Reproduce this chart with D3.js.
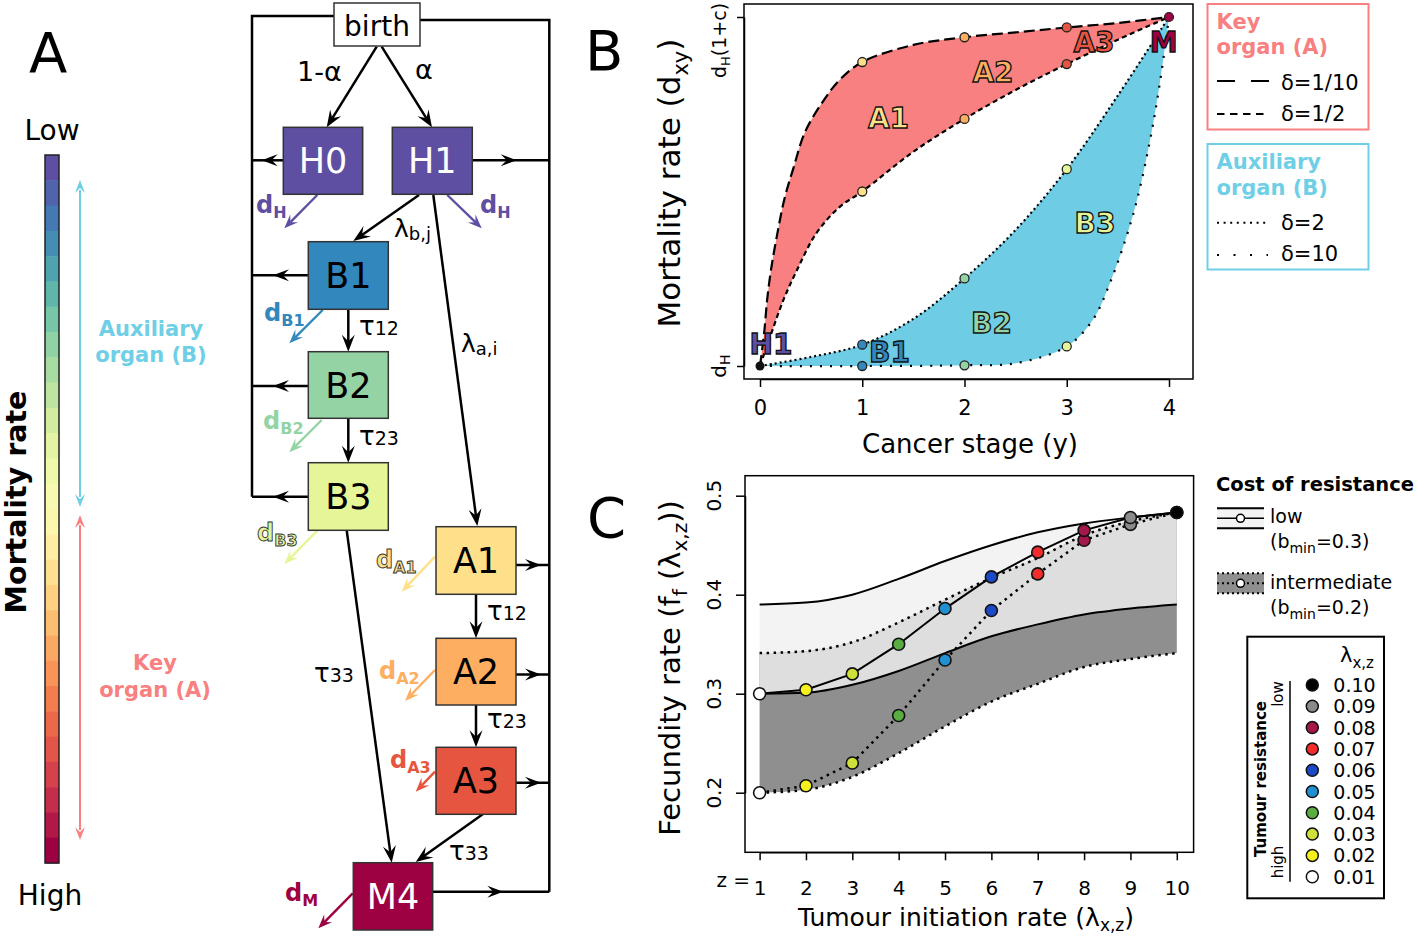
<!DOCTYPE html>
<html><head><meta charset="utf-8">
<script src="https://cdn.jsdelivr.net/npm/d3@7/dist/d3.min.js"></script>
<style>
html,body{margin:0;padding:0;background:#fff;}
svg{display:block;font-family:"DejaVu Sans",sans-serif;}
</style></head>
<body>
<svg id="fig" width="1418" height="937"></svg>
<script>
// ================= DATA =================
// Panel A – model states
const stateIds = ["birth","H0","H1","B1","B2","B3","A1","A2","A3","M4"];
const mortalityBarSteps = 28;

// Panel B – relative mortality (0 = dH, 1 = dH(1+c)) by cancer stage
const stageTicks = [0,1,2,3,4];
const nodeStages = [1,2,3];
const keyDeltaTenth = [0.871,0.942,0.970];
const keyDeltaHalf  = [0.500,0.708,0.865];
const auxDeltaTwo   = [0.061,0.251,0.564];
const auxDeltaTen   = [0.000,0.002,0.056];
// traced curves [stage, relative mortality]
const traceKeyTenth = [[0,0],[0.04,0.093],[0.07,0.19],[0.11,0.28],[0.17,0.38],[0.24,0.48],[0.33,0.57],[0.44,0.67],[0.62,0.76],[0.78,0.82],[1,0.871],[1.5,0.92],[2,0.942],[2.5,0.956],[3,0.970],[3.5,0.983],[4,1]];
const traceKeyHalf  = [[0,0],[0.11,0.093],[0.23,0.19],[0.37,0.28],[0.55,0.38],[0.78,0.456],[1,0.5],[1.5,0.614],[2,0.708],[2.5,0.791],[3,0.865],[3.5,0.935],[4,1]];
const traceAuxTwo   = [[0,0],[0.5,0.026],[1,0.061],[1.5,0.135],[2,0.251],[2.5,0.39],[3,0.564],[3.5,0.775],[4,1]];
const traceAuxTen   = [[0,0],[1,0],[2,0.002],[2.5,0.008],[3,0.056],[3.25,0.13],[3.42,0.236],[3.65,0.435],[3.81,0.64],[3.91,0.81],[4,1]];

// Panel C – fecundity by tumour initiation rate index z
const zValues = [1,2,3,4,5,6,7,8,9,10];
const lambdaLabels = ["0.01","0.02","0.03","0.04","0.05","0.06","0.07","0.08","0.09","0.10"];
const fecundityTicks = [0.2,0.3,0.4,0.5];
const lowCostUpper     = [0.390,0.392,0.400,0.416,0.434,0.450,0.463,0.472,0.478,0.483];
const lowCostLower     = [0.300,0.301,0.309,0.323,0.341,0.358,0.370,0.380,0.386,0.390];
const lowCostFecundity = [0.300,0.304,0.320,0.350,0.386,0.418,0.443,0.465,0.478,0.483];
const interUpper       = [0.341,0.343,0.352,0.372,0.395,0.417,0.437,0.460,0.474,0.483];
const interLower       = [0.200,0.203,0.216,0.240,0.267,0.292,0.310,0.327,0.335,0.341];
const interFecundity   = [0.200,0.207,0.230,0.278,0.334,0.384,0.421,0.455,0.471,0.483];

// ================= STYLE =================
const lambdaColors = ["#ffffff","#f5f01e","#cfe03a","#5cac44","#2090d0","#1a4ac8","#f22b2b","#a3174b","#8a8a8a","#000000"];
const stateColors = {birth:"#ffffff",H0:"#5e4fa2",H1:"#5e4fa2",B1:"#3288bd",B2:"#94d3a4",B3:"#e6f598",A1:"#fee08b",A2:"#fdae61",A3:"#e6553f",M4:"#9e0142"};
const SALMON = "#f88080", SKY = "#6fcfe6";

const svg = d3.select("#fig");

function addText(g, x, y, str, o={}) {
  const t = g.append("text").attr("x",x).attr("y",y).text(str)
    .attr("font-size", o.size||20).attr("fill", o.fill||"#000")
    .attr("text-anchor", o.anchor||"start").attr("font-weight", o.weight||"normal");
  if (o.stroke) t.attr("stroke",o.stroke).attr("stroke-width",o.sw||1);
  if (o.rotate) t.attr("transform",`rotate(${o.rotate},${x},${y})`);
  return t;
}
function richText(g, x, y, parts, o={}) {
  const size=o.size||20, subSize=o.subSize||size*0.68, shift=o.shift!==undefined?o.shift:size*0.28;
  const t = g.append("text").attr("x",x).attr("y",y)
    .attr("font-size", size).attr("fill", o.fill||"#000")
    .attr("text-anchor", o.anchor||"start").attr("font-weight", o.weight||"normal");
  if (o.stroke) t.attr("stroke",o.stroke).attr("stroke-width",o.sw||1);
  if (o.rotate) t.attr("transform",`rotate(${o.rotate},${x},${y})`);
  let cur=0;
  parts.forEach(([s,k])=>{
    const target = k==='sub'? shift : 0;
    const ts = t.append("tspan").text(s).attr("dy", target-cur);
    if (k==='sub') ts.attr("font-size", subSize);
    cur = target;
  });
  return t;
}
function head(g, tx, ty, fx, fy, color, L=15, Wd=6) {
  const a = Math.atan2(ty-fy, tx-fx)*180/Math.PI;
  g.append("path").attr("d",`M0,0L${-L},${-Wd}L${-L*0.62},0L${-L},${Wd}Z`)
   .attr("fill",color).attr("transform",`translate(${tx},${ty}) rotate(${a})`);
}
function arrow(g, x1,y1,x2,y2,color,w=2.5,L=15,Wd=6){
  const d=Math.hypot(x2-x1,y2-y1), ux=(x2-x1)/d, uy=(y2-y1)/d;
  g.append("line").attr("x1",x1).attr("y1",y1).attr("x2",x2-ux*L*0.6).attr("y2",y2-uy*L*0.6)
   .attr("stroke",color).attr("stroke-width",w);
  head(g,x2,y2,x1,y1,color,L,Wd);
}
function poly(g, pts, color="#000", w=2.5){
  g.append("polyline").attr("points",pts.map(p=>p.join(",")).join(" "))
   .attr("fill","none").attr("stroke",color).attr("stroke-width",w).attr("stroke-linejoin","miter");
}

// ================= PANEL A =================
const gA = svg.append("g");
addText(gA, 29, 72, "A", {size:56});
addText(gA, 52, 140, "Low", {size:28, anchor:"middle"});
addText(gA, 50, 905, "High", {size:28, anchor:"middle"});
const barTop=155, barBot=863, barX=45, barW=14;
const barScale = d3.scaleBand().domain(d3.range(mortalityBarSteps)).range([barTop,barBot]);
gA.selectAll("rect.cb").data(d3.range(mortalityBarSteps)).join("rect")
  .attr("x",barX).attr("y",d=>barScale(d)).attr("width",barW).attr("height",barScale.bandwidth()+0.5)
  .attr("fill",d=>d3.interpolateSpectral(1-d/(mortalityBarSteps-1)));
gA.append("rect").attr("x",barX).attr("y",barTop).attr("width",barW).attr("height",barBot-barTop)
  .attr("fill","none").attr("stroke","#222").attr("stroke-width",1.5);
addText(gA, 26, 502, "Mortality rate", {size:28.5, weight:"bold", anchor:"middle", rotate:-90});
// organ range arrows
gA.append("line").attr("x1",80).attr("x2",80).attr("y1",190).attr("y2",497).attr("stroke",SKY).attr("stroke-width",2);
head(gA,80,180,80,200,SKY,13,5); head(gA,80,507,80,490,SKY,13,5);
gA.append("line").attr("x1",80).attr("x2",80).attr("y1",525).attr("y2",830).attr("stroke",SALMON).attr("stroke-width",2);
head(gA,80,515,80,530,SALMON,13,5); head(gA,80,840,80,825,SALMON,13,5);
addText(gA, 151, 336, "Auxiliary", {size:21, weight:"bold", fill:SKY, anchor:"middle"});
addText(gA, 151, 362, "organ (B)", {size:21, weight:"bold", fill:SKY, anchor:"middle"});
addText(gA, 155, 670, "Key", {size:21, weight:"bold", fill:SALMON, anchor:"middle"});
addText(gA, 155, 697, "organ (A)", {size:21, weight:"bold", fill:SALMON, anchor:"middle"});

// ---- state diagram ----
const boxes = {
  birth:[334,3,420,46], H0:[283.3,127.3,362.7,194.3], H1:[392.3,127.3,472.3,194.3],
  B1:[308.3,241.7,388.3,309.3], B2:[308.3,351.7,388.3,418.3], B3:[308.3,462.7,388.3,530.3],
  A1:[436,526.7,516,594.3], A2:[436,638.3,516,705], A3:[436,747.3,516,814.3], M4:[353.3,862.7,432.7,930]
};
const gD = svg.append("g");
poly(gD, [[334,16],[252,16],[252,496.7]]);
poly(gD, [[420,20],[549.3,20],[549.3,891.7]]);
[[283.3,160.3,252,261.7],[308.3,275.3,252,273],[308.3,386,252,273],[308.3,496.7,252,273]].forEach(([x1,y,x2,tip])=>{
  poly(gD,[[x1,y],[x2,y]]); head(gD,tip,y,x1,y,"#000",16,6);
});
[[472.3,160.3,549.3,516.7],[516,565,549.3,541],[516,674.5,549.3,541],[516,782.7,549.3,541],[432.7,891.7,549.3,503.3]].forEach(([x1,y,x2,tip])=>{
  poly(gD,[[x1,y],[x2,y]]); head(gD,tip,y,x1,y,"#000",16,6);
});
arrow(gD,376.7,46.7,326.7,127.3,"#000",2.5,17,6.5);
arrow(gD,381.7,46.7,432,127.3,"#000",2.5,17,6.5);
arrow(gD,419,195,353.3,241,"#000",2.5,17,6.5);
arrow(gD,433.3,195,477.3,526,"#000",2.5,17,6.5);
arrow(gD,348.3,309.3,348.3,351.7,"#000",2.5,17,6.5);
arrow(gD,348.3,418.3,348.3,462.7,"#000",2.5,17,6.5);
arrow(gD,476,594.3,476,638.3,"#000",2.5,17,6.5);
arrow(gD,476,705,476,747.3,"#000",2.5,17,6.5);
arrow(gD,346.7,530.3,391.7,862.7,"#000",2.5,17,6.5);
arrow(gD,482.7,814.3,415.7,862,"#000",2.5,17,6.5);
const deaths = [
  ["H0",317.3,195,284.3,228.3],["H1",447.3,195,481.7,228.3],
  ["B1",322.7,310,289.3,343.3],["B2",321.7,420,289.3,452.3],["B3",317.3,530.7,284.3,564],
  ["A1",435,556.7,401.7,591.7],["A2",435,670,405,701],["A3",435,771.7,415.7,791.7],["M4",352.7,893.3,318.3,928.3]
];
deaths.forEach(([s,x1,y1,x2,y2])=>arrow(gD,x1,y1,x2,y2,stateColors[s],2.4,14,5.5));
stateIds.forEach(id=>{
  const [x0,y0,x1,y1]=boxes[id];
  gD.append("rect").attr("x",x0).attr("y",y0).attr("width",x1-x0).attr("height",y1-y0)
    .attr("fill",stateColors[id]).attr("stroke","#333").attr("stroke-width",1.5);
  const white = (id==="H0"||id==="H1"||id==="M4");
  if(id==="birth") addText(gD,(x0+x1)/2,35.5,"birth",{size:28,anchor:"middle"});
  else addText(gD,(x0+x1)/2,(y0+y1)/2+12.5,id,{size:35,anchor:"middle",fill:white?"#fff":"#000"});
});
addText(gD,297,81,"1-α",{size:27});
addText(gD,415,79,"α",{size:27});
richText(gD,394,237,[["λ"],["b,j","sub"]],{size:25,subSize:18,shift:3});
richText(gD,461,352,[["λ"],["a,i","sub"]],{size:25,subSize:18,shift:3});
[["τ12",359,335],["τ23",359,445],["τ12",487,620],["τ23",487,728],["τ33",314,682],["τ33",449,860]].forEach(([s,x,y])=>{
  richText(gD,x,y,[["τ"],[s.slice(1),"sub"]],{size:26,subSize:19,shift:0});
});
const dLabels = [
  ["H0","H",256,213],["H1","H",480,213],["B1","B1",264,321],["B2","B2",263,429],["B3","B3",257,541],
  ["A1","A1",376,568],["A2","A2",379,679],["A3","A3",390,768],["M4","M",285,901]
];
dLabels.forEach(([s,sub,x,y])=>{
  const pale = (s==="B3"||s==="A1");
  richText(gD,x,y,[["d"],[sub,"sub"]],{size:24,subSize:16,shift:5,weight:"bold",fill:stateColors[s],
    stroke:pale?"#333":null, sw:0.9});
});

// ================= PANEL B =================
const gB = svg.append("g");
addText(gB, 585, 70, "B", {size:56});
const xB = d3.scaleLinear().domain([0,4]).range([760,1169]);
const yB = d3.scaleLinear().domain([0,1]).range([366,17]);
const lineB = d3.line().x(d=>xB(d[0])).y(d=>yB(d[1])).curve(d3.curveCatmullRom.alpha(0.5));
const band = (a,b)=> lineB(a) + lineB(b.slice().reverse()).replace(/^M/,"L") + "Z";
gB.append("path").attr("d",band(traceKeyTenth,traceKeyHalf)).attr("fill","#f88080");
gB.append("path").attr("d",band(traceAuxTwo,traceAuxTen)).attr("fill","#6ecde5");
const curveStyles = [[traceKeyTenth,"11,5"],[traceKeyHalf,"5,3.5"],[traceAuxTwo,"2,3"],[traceAuxTen,"2,8"]];
curveStyles.forEach(([c,da])=>gB.append("path").attr("d",lineB(c)).attr("fill","none")
  .attr("stroke","#000").attr("stroke-width",2.2).attr("stroke-dasharray",da));
gB.append("rect").attr("x",744).attr("y",4).attr("width",449).attr("height",375)
  .attr("fill","none").attr("stroke","#000").attr("stroke-width",1.5);
const axBx = gB.append("g").attr("transform","translate(0,379)")
  .call(d3.axisBottom(xB).tickValues(stageTicks).tickSize(8).tickSizeOuter(0).tickPadding(13).tickFormat(d3.format("d")));
axBx.attr("font-family",'"DejaVu Sans",sans-serif').attr("font-size",21);
axBx.selectAll("line,path").attr("stroke-width",1.5);
const axBy = gB.append("g").attr("transform","translate(744,0)")
  .call(d3.axisLeft(yB).tickValues([0,1]).tickSize(7).tickSizeOuter(0).tickFormat(""));
axBy.selectAll("line,path").attr("stroke-width",1.5);
richText(gB,726,yB(0),[["d"],["H","sub"]],{size:20,anchor:"middle",rotate:-90,subSize:14,shift:4});
richText(gB,726,78,[["d"],["H","sub"],["(1+c)"]],{size:19,anchor:"start",rotate:-90,subSize:13,shift:4});
addText(gB,970,453,"Cancer stage (y)",{size:26,anchor:"middle"});
richText(gB,680,183,[["Mortality rate (d"],["xy","sub"],[")"]],{size:31,anchor:"middle",rotate:-90,subSize:21,shift:8});
const nodeColA = ["#fee08b","#fdae61","#e6553f"], nodeColB = ["#3288bd","#94d3a4","#e6f598"];
[[keyDeltaTenth,nodeColA],[keyDeltaHalf,nodeColA],[auxDeltaTwo,nodeColB],[auxDeltaTen,nodeColB]].forEach(([vals,cols])=>{
  gB.selectAll(null).data(vals).join("circle").attr("cx",(d,i)=>xB(nodeStages[i])).attr("cy",d=>yB(d))
    .attr("r",4.5).attr("fill",(d,i)=>cols[i]).attr("stroke","#222").attr("stroke-width",1.3);
});
gB.append("circle").attr("cx",xB(0)).attr("cy",yB(0)).attr("r",4.5).attr("fill","#111");
gB.append("circle").attr("cx",xB(4)).attr("cy",yB(1)).attr("r",4.5).attr("fill","#9e0142").attr("stroke","#222").attr("stroke-width",1.2);
[["H1",771,354,"#5e4fa2"],["B1",889.5,362,"#3288bd"],["B2",991.5,333,"#94d3a4"],["B3",1095,233,"#e6f598"],
 ["A1",888.5,128,"#fee08b"],["A2",993,82,"#fdae61"],["A3",1094,52,"#e6553f"],["M",1163.7,52,"#9e0142"]].forEach(([s,x,y,c])=>{
  addText(gB,x,y,s,{size:28,weight:"bold",anchor:"middle",fill:c,stroke:"#111",sw:1.3});
});
gB.append("rect").attr("x",1207.5).attr("y",4).attr("width",161).attr("height",125.5).attr("fill","none").attr("stroke",SALMON).attr("stroke-width",2);
addText(gB,1216.5,28.5,"Key",{size:21,weight:"bold",fill:SALMON});
addText(gB,1216.5,54,"organ (A)",{size:21,weight:"bold",fill:SALMON});
gB.append("line").attr("x1",1217).attr("x2",1269).attr("y1",81).attr("y2",81).attr("stroke","#000").attr("stroke-width",2.2).attr("stroke-dasharray","18,16");
addText(gB,1281,89.5,"δ=1/10",{size:21});
gB.append("line").attr("x1",1217).attr("x2",1265).attr("y1",114).attr("y2",114).attr("stroke","#000").attr("stroke-width",2.2).attr("stroke-dasharray","7.5,5.5");
addText(gB,1281,121,"δ=1/2",{size:21});
gB.append("rect").attr("x",1207.5).attr("y",144).attr("width",161).attr("height",125.5).attr("fill","none").attr("stroke",SKY).attr("stroke-width",2);
addText(gB,1216.5,168.5,"Auxiliary",{size:21,weight:"bold",fill:SKY});
addText(gB,1216.5,194.5,"organ (B)",{size:21,weight:"bold",fill:SKY});
gB.append("line").attr("x1",1217).attr("x2",1268).attr("y1",222.7).attr("y2",222.7).attr("stroke","#000").attr("stroke-width",2).attr("stroke-dasharray","2,4.6");
addText(gB,1281,230,"δ=2",{size:21});
gB.append("line").attr("x1",1217).attr("x2",1268).attr("y1",255).attr("y2",255).attr("stroke","#000").attr("stroke-width",2).attr("stroke-dasharray","2,14.5");
addText(gB,1281,261,"δ=10",{size:21});

// ================= PANEL C =================
const gC = svg.append("g");
addText(gC, 587, 537, "C", {size:56});
const xC = d3.scaleLinear().domain([1,10]).range([759.6,1176.8]);
const yC = d3.scaleLinear().domain([0.2,0.5]).range([792.7,495.7]);
const idx = d3.range(zValues.length);
const areaC = (lo,hi)=> d3.area().x(i=>xC(zValues[i])).y0(i=>yC(lo[i])).y1(i=>yC(hi[i])).curve(d3.curveMonotoneX)(idx);
const lineC = (v,curve)=> d3.line().x(i=>xC(zValues[i])).y(i=>yC(v[i])).curve(curve)(idx);
gC.append("path").attr("d",areaC(lowCostLower,lowCostUpper)).attr("fill","#f3f3f3");
gC.append("path").attr("d",areaC(interLower,interUpper)).attr("fill","#8f8f8f");
gC.append("path").attr("d",areaC(lowCostLower,interUpper)).attr("fill","#dedede");
[[lowCostUpper,null],[lowCostLower,null],[interUpper,"2.5,4.5"],[interLower,"2.5,4.5"]].forEach(([v,da])=>{
  const p=gC.append("path").attr("d",lineC(v,d3.curveMonotoneX)).attr("fill","none").attr("stroke","#000").attr("stroke-width",da?2.5:2);
  if(da) p.attr("stroke-dasharray",da);
});
gC.append("path").attr("d",lineC(lowCostFecundity,d3.curveLinear)).attr("fill","none").attr("stroke","#000").attr("stroke-width",2);
gC.append("path").attr("d",lineC(interFecundity,d3.curveLinear)).attr("fill","none").attr("stroke","#000").attr("stroke-width",2.5).attr("stroke-dasharray","2.5,4.5");
[interFecundity,lowCostFecundity].forEach(v=>{
  gC.selectAll(null).data(idx).join("circle").attr("cx",i=>xC(zValues[i])).attr("cy",i=>yC(v[i]))
    .attr("r",6).attr("fill",i=>lambdaColors[i]).attr("stroke","#111").attr("stroke-width",1.6);
});
gC.append("rect").attr("x",745).attr("y",475.7).attr("width",448.6).attr("height",376.6)
  .attr("fill","none").attr("stroke","#000").attr("stroke-width",1.5);
const axCx = gC.append("g").attr("transform","translate(0,852.3)")
  .call(d3.axisBottom(xC).tickValues(zValues).tickSize(8).tickSizeOuter(0).tickPadding(20.5).tickFormat(d3.format("d")));
axCx.attr("font-family",'"DejaVu Sans",sans-serif').attr("font-size",20);
axCx.selectAll("line,path").attr("stroke-width",1.5);
addText(gC,750,887,"z =",{size:20,anchor:"end"});
const axCy = gC.append("g").attr("transform","translate(745,0)")
  .call(d3.axisLeft(yC).tickValues(fecundityTicks).tickSize(9).tickSizeOuter(0).tickFormat(""));
axCy.selectAll("line,path").attr("stroke-width",1.5);
fecundityTicks.forEach(t=>addText(gC,721,yC(t),d3.format(".1f")(t),{size:20,anchor:"middle",rotate:-90}));
richText(gC,966,926,[["Tumour initiation rate (λ"],["x,z","sub"],[")"]],{size:25,anchor:"middle",subSize:17,shift:5});
richText(gC,680,668,[["Fecundity rate (f"],["f","sub"],[" (λ"],["x,z","sub"],["))"]],{size:29,anchor:"middle",rotate:-90,subSize:20,shift:7});
addText(gC,1216,491,"Cost of resistance",{size:19.5,weight:"bold"});
gC.append("rect").attr("x",1217).attr("y",508.3).attr("width",47).attr("height",20).attr("fill","#f3f3f3");
[508.3,528.3].forEach(y=>gC.append("line").attr("x1",1217).attr("x2",1264).attr("y1",y).attr("y2",y).attr("stroke","#000").attr("stroke-width",2));
gC.append("line").attr("x1",1217).attr("x2",1264).attr("y1",518.3).attr("y2",518.3).attr("stroke","#000").attr("stroke-width",1.5);
gC.append("circle").attr("cx",1240.5).attr("cy",518.3).attr("r",4).attr("fill","#fff").attr("stroke","#000").attr("stroke-width",1.5);
addText(gC,1270,523,"low",{size:19});
richText(gC,1270,548,[["(b"],["min","sub"],["=0.3)"]],{size:19,subSize:14,shift:5});
gC.append("rect").attr("x",1217).attr("y",573.3).attr("width",47).attr("height",20).attr("fill","#8f8f8f");
[573.3,593.3,583.3].forEach(y=>gC.append("line").attr("x1",1217).attr("x2",1264).attr("y1",y).attr("y2",y).attr("stroke","#000").attr("stroke-width",2).attr("stroke-dasharray","2,3"));
gC.append("circle").attr("cx",1240.5).attr("cy",583.3).attr("r",4).attr("fill","#fff").attr("stroke","#000").attr("stroke-width",1.5);
addText(gC,1270,589,"intermediate",{size:19});
richText(gC,1270,614,[["(b"],["min","sub"],["=0.2)"]],{size:19,subSize:14,shift:5});
gC.append("rect").attr("x",1247.3).attr("y",636.7).attr("width",136.7).attr("height",261.6).attr("fill","none").attr("stroke","#000").attr("stroke-width",2);
richText(gC,1340,661.7,[["λ"],["x,z","sub"]],{size:21,subSize:15,shift:6});
gC.append("line").attr("x1",1290).attr("x2",1290).attr("y1",681).attr("y2",881.7).attr("stroke","#000").attr("stroke-width",1.5);
addText(gC,1266,779,"Tumour resistance",{size:15,weight:"bold",anchor:"middle",rotate:-90});
addText(gC,1283,694,"low",{size:15,anchor:"middle",rotate:-90});
addText(gC,1283,862,"high",{size:15,anchor:"middle",rotate:-90});
const legY = d3.scalePoint().domain(idx.slice().reverse()).range([685,876.7]);
gC.selectAll("circle.leg").data(idx).join("circle").attr("cx",1312.3).attr("cy",i=>legY(i)).attr("r",6)
  .attr("fill",i=>lambdaColors[i]).attr("stroke","#111").attr("stroke-width",1.5);
gC.selectAll("text.leg").data(idx).join("text").attr("x",1333.3).attr("y",i=>legY(i)+7).text(i=>lambdaLabels[i])
  .attr("font-size",19);
</script>
</body></html>
